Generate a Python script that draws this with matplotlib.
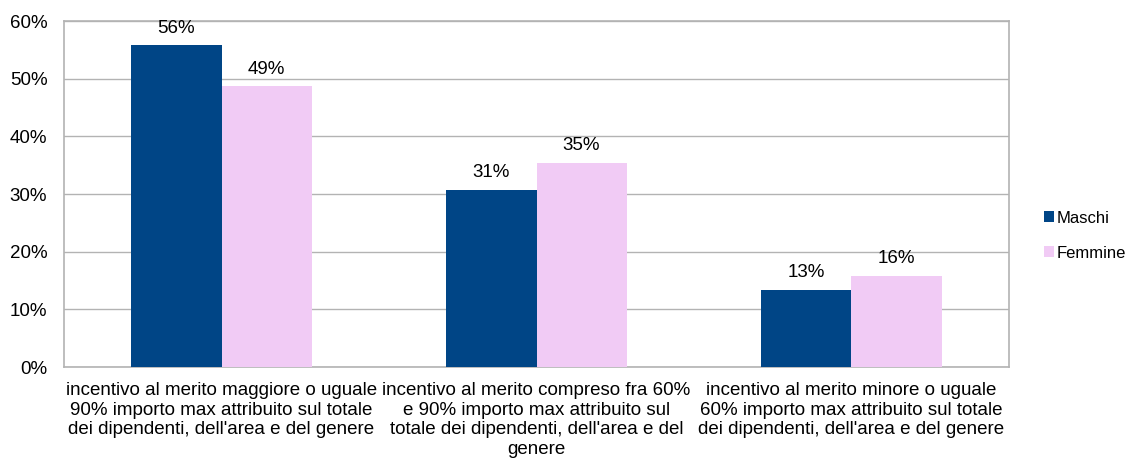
import numpy as np
import matplotlib.pyplot as plt

plt.rcParams['font.family'] = ['Liberation Sans', 'DejaVu Sans']

categories = [
    "incentivo al merito maggiore o uguale\n90% importo max attribuito sul totale\ndei dipendenti, dell'area e del genere",
    "incentivo al merito compreso fra 60%\ne 90% importo max attribuito sul\ntotale dei dipendenti, dell'area e del\ngenere",
    "incentivo al merito minore o uguale\n60% importo max attribuito sul totale\ndei dipendenti, dell'area e del genere",
]
maschi = [55.8, 30.7, 13.4]
femmine = [48.7, 35.4, 15.8]
series_names = ['Maschi', 'Femmine']
colors = ['#004586', '#f1cbf5']

fs = 13.5

fig = plt.figure(figsize=(11.29, 4.61), dpi=100)
ax = fig.add_axes([64 / 1129, 1 - 367 / 461, 945 / 1129, 346 / 461])

x = np.arange(len(categories))
w = 0.286
for i, (vals, name) in enumerate(zip([maschi, femmine], series_names)):
    pos = x + (i - 0.5) * w
    ax.bar(pos, vals, width=w, color=colors[i], label=name, zorder=3)
    for p, v in zip(pos, vals):
        ax.text(p, v + 1.5, f"{round(v):.0f}%", ha='center', va='bottom', fontsize=fs)

ax.set_xlim(-0.5, len(categories) - 0.5)
ax.set_ylim(0, 60)
ax.set_yticks(np.arange(0, 61, 10))
ax.set_yticklabels([f"{t}%" for t in range(0, 61, 10)], fontsize=fs)
ax.set_xticks(x)
ax.set_xticklabels(categories, fontsize=fs, linespacing=1.2, va='top')
ax.tick_params(axis='x', length=0, pad=11)
ax.tick_params(axis='y', length=0, pad=12)
ax.grid(axis='y', color='#b3b3b3', linewidth=1, zorder=0)
for s in ax.spines.values():
    s.set_color('#b3b3b3')
    s.set_linewidth(1.2)

ax.legend(loc='center left', bbox_to_anchor=(1.037, 0.38), frameon=False,
          fontsize=12, handlelength=0.6, handleheight=0.6, handletextpad=0.15,
          labelspacing=1.2, borderpad=0, borderaxespad=0)

fig.savefig('out.png', dpi=100)
